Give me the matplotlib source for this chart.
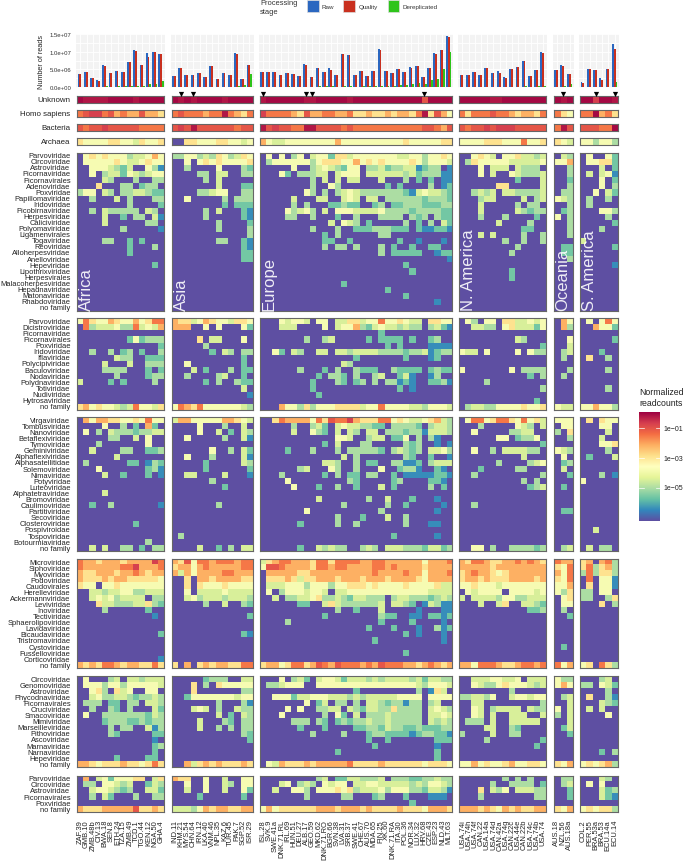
import numpy as np
import matplotlib
matplotlib.use("Agg")
import matplotlib.pyplot as plt
from matplotlib.patches import Rectangle

plt.rcParams['font.family'] = ['Liberation Sans', 'DejaVu Sans']

W, H = 685, 862

# ---- samples per region ----
REGIONS = ["Africa", "Asia", "Europe", "N. America", "Oceania", "S. America"]
SAMPLES_AF = ["ZAF.39", "GMB.10", "ZMB.48b", "CIV.13", "BWA.18", "SEN.8", "ETH.24", "TZA.15", "ZMB.49", "TCD.1", "TGO.44", "KEN.12", "NGA.50", "GHA.4"]
SAMPLES_AS = ["IND.11", "KHM.21", "MYS.54", "CHN.64", "IRN.12", "LKA.40", "VNM.46", "NPL.35", "KAZ.6", "TUR.45", "PAK.7", "SGP.52", "ISR.29"]
SAMPLES_EU = ["ISL.28", "SVK.9", "SWE.41a", "DNK.71.RL", "IRL.69", "HUN.51", "DEU.27", "ALB.17", "GEO.59", "MKD.62", "DNK.71.RO", "BGR.66", "SVN.38", "LVA.31", "SRB.37", "SWE.41", "CHE.67", "AUS.70", "MDA.65", "FIN.25", "XK.60", "DNK.71.RA", "ITA.30", "POL.36", "NOR.34", "LUX.32", "HRV.68", "CZE.43", "ESP.23", "NLD.43", "MLT.63"]
SAMPLES_NA = ["USA.74i", "USA.74h", "USA.74f", "CAN.22", "USA.14a", "USA.74d", "CAN.42a", "USA.74g", "CAN.22c", "USA.44e", "CAN.22b", "USA.74c", "USA.74b", "USA.74"]
SAMPLES_OC = ["AUS.18", "NZL.56", "AUS.18a"]
SAMPLES_SA = ["COL.2", "PER.55", "BRA.53a", "BRA.53", "ECU.14a", "ECU.14"]
MARKED = ["KHM.21", "CHN.64", "ISL.28", "ALB.17", "GEO.59", "HRV.68", "NZL.56", "BRA.53a", "ECU.14"]

# ---- reads, millions ----
RAW_AF = [3.8, 4.2, 2.6, 2.0, 6.2, 3.9, 4.6, 4.3, 7.1, 10.4, 6.2, 9.7, 10.0, 9.5]
QUAL_AF = [3.8, 4.2, 2.6, 1.7, 6.1, 3.9, 4.6, 4.3, 7.1, 10.3, 6.2, 8.4, 10.0, 9.3]
DEREP_AF = [0.1, 0.1, 0.05, 0.05, 0.3, 0.1, 0.2, 0.2, 0.4, 0.4, 0.3, 0.9, 1.0, 1.8]
RAW_AS = [3.2, 5.4, 3.5, 3.5, 4.1, 2.8, 6.0, 2.3, 3.9, 3.5, 9.6, 2.3, 6.3]
QUAL_AS = [3.2, 5.4, 3.5, 3.5, 4.1, 2.8, 6.0, 2.3, 3.9, 3.5, 9.5, 2.3, 6.3]
DEREP_AS = [0.05, 0.1, 0.05, 0.1, 0.1, 0.05, 0.1, 0.1, 0.1, 0.1, 0.2, 0.6, 3.6]
RAW_EU = [4.4, 4.2, 4.3, 3.3, 4.1, 3.7, 3.0, 6.5, 2.8, 5.5, 4.3, 5.3, 3.5, 9.3, 9.1, 3.5, 4.6, 3.1, 4.6, 10.8, 4.6, 3.9, 5.0, 4.3, 5.6, 5.9, 2.9, 5.5, 9.6, 10.6, 14.5]
QUAL_EU = [4.4, 4.2, 4.3, 3.3, 4.1, 3.7, 3.0, 6.4, 2.8, 5.5, 4.3, 4.9, 3.5, 9.3, 9.0, 3.5, 4.6, 3.1, 4.6, 10.6, 4.5, 3.9, 5.0, 4.3, 5.5, 5.9, 2.9, 5.5, 9.5, 10.4, 14.3]
DEREP_EU = [0.1, 0.1, 0.1, 0.1, 0.2, 0.1, 0.1, 0.1, 0.1, 0.2, 0.2, 0.2, 0.1, 0.2, 0.2, 0.1, 0.2, 0.2, 0.2, 0.3, 0.3, 0.3, 0.5, 0.7, 0.8, 1.1, 0.9, 2.0, 2.4, 5.0, 9.9]
RAW_NA = [3.3, 3.4, 4.2, 3.3, 5.3, 4.0, 4.6, 2.9, 5.0, 5.6, 7.4, 3.2, 4.8, 9.9]
QUAL_NA = [3.3, 3.4, 4.2, 3.3, 5.3, 4.0, 4.0, 2.6, 5.0, 5.6, 7.4, 3.2, 4.8, 9.8]
DEREP_NA = [0.05, 0.05, 0.1, 0.05, 0.1, 0.1, 0.1, 0.05, 0.1, 0.1, 0.2, 0.1, 0.2, 0.3]
RAW_OC = [4.9, 6.2, 3.6]
QUAL_OC = [4.9, 6.1, 3.6]
DEREP_OC = [0.1, 0.3, 0.8]
RAW_SA = [1.3, 5.0, 4.9, 2.5, 5.0, 12.1]
QUAL_SA = [1.1, 5.0, 4.9, 2.0, 5.0, 10.8]
DEREP_SA = [0.05, 0.1, 0.1, 0.05, 0.1, 1.3]

# ---- cell codes -> log10(normalized readcount), '.' means no reads ----
LEVELS = {'.': np.nan, '1': -6.4, '2': -5.6, '3': -5.0, '4': -4.45, '5': -3.8, '6': -2.9, '7': -2.15,
          '8': -1.5, 'b': -1.05, '9': -0.7, 'a': -0.2, 'A': -0.03}

# ---- fraction strips: Africa, Asia, Europe, N. America, Oceania, S. America ----
STRIP_NAMES = ["Unknown", "Homo sapiens", "Bacteria", "Archaea"]
UNKNOWN = ["AaaaaAAAAaAAAA", "AaAaAAAAaAAAA", "aAAAA AAaaA AAAAa AAAAA AAAAA AbAAA A", "AAAAAaaAAAAAAA", "AaA", "AA9AAa"]
HOMO = ["8b998b7877b776", "8b888788a8768", "98888 76b77 88778 66766 76776 8a6b7 5", "86888b88767768", "865", "88A786"]
BACTERIA = ["b8bb9bbbbb8888", "b9babbbbbb8bb", "ab9bb 88aab bbb8b 88888 88888 8bb87 b", "b8bb9b999bbbbb", "8ab", "bbb88A"]
ARCHAEA = ["65555665546556", "..66555665545", "7544 55555 555 7 55555 55555 6 55555 66", "55556665558556", "654", "553553"]

# ---- virus families ----
FAM_VERT = ["Parvoviridae", "Circoviridae", "Astroviridae", "Picornaviridae", "Picornavirales", "Adenoviridae", "Poxviridae", "Papillomaviridae", "Iridoviridae", "Picobirnaviridae", "Herpesviridae", "Caliciviridae", "Polyomaviridae", "Ligamenvirales", "Togaviridae", "Reoviridae", "Alloherpesviridae", "Anelloviridae", "Hepeviridae", "Lipothrixviridae", "Herpesvirales", "Malacoherpesviridae", "Hepadnaviridae", "Matonaviridae", "Rhabdoviridae", "no family"]
FAM_INV = ["Parvoviridae", "Dicistroviridae", "Picornaviridae", "Picornavirales", "Poxviridae", "Iridoviridae", "Iflaviridae", "Polycipiviridae", "Baculoviridae", "Nodaviridae", "Polydnaviridae", "Totiviridae", "Nudiviridae", "Hytrosaviridae", "no family"]
FAM_PLANT = ["Virgaviridae", "Tombusviridae", "Nanoviridae", "Betaflexiviridae", "Tymoviridae", "Geminiviridae", "Alphaflexiviridae", "Alphasatellitidae", "Solemoviridae", "Nimaviridae", "Potyviridae", "Luteoviridae", "Alphatetraviridae", "Bromoviridae", "Caulimoviridae", "Partitiviridae", "Secoviridae", "Closteroviridae", "Pospiviroidae", "Tospoviridae", "Botourmiaviridae", "no family"]
FAM_PHAGE = ["Microviridae", "Siphoviridae", "Myoviridae", "Podoviridae", "Caudovirales", "Herelleviridae", "Ackermannviridae", "Leviviridae", "Inoviridae", "Tectiviridae", "Sphaerolipoviridae", "Lavidaviridae", "Bicaudaviridae", "Tristromaviridae", "Cystoviridae", "Fusselloviridae", "Corticoviridae", "no family"]
FAM_PROT = ["Circoviridae", "Genomoviridae", "Astroviridae", "Phycodnaviridae", "Picornavirales", "Cruciviridae", "Smacoviridae", "Mimiviridae", "Marseilleviridae", "Pithoviridae", "Ascoviridae", "Marnaviridae", "Narnaviridae", "Hepeviridae", "no family"]
FAM_FUNG = ["Parvoviridae", "Circoviridae", "Astroviridae", "Picornavirales", "Poxviridae", "no family"]

VERT_AF = [".5656 55534 4575", ".5555 56544 5655", "..555 4324. .531", "..5.3 44254 3455", "....4 3...3 ..33",
           "...6. ..33. 233.", "355.4 3.334 4322", "..3.. .4.3. ..33", "..... ...3. ...2", "..3.4 33333 .43.",
           "....4 ..2.3 3.41", "....4 ..... .33.", "..... ..3.. ...1", "", "....3 3..2. 2...", "..... ...2. ..3.",
           "..... ...2. ....", "", "..... ..... ..2."]
VERT_AS = ["33553 43653 465", "..5.5 65655 556", "..3.. ..5.. .32", "....3 3.44. .33", ".....3.4.....", ".......4...22",
           "....3 3455. .33", "..5.. ...3. 333", "........2.222", ".....3.4...21", ".....3.....21", ".......3....2",
           ".......3....3", "............3", ".......33..21", "...........21", "...........22", "...........22"]
VERT_EU = [".5.5. 35.45 52664 55555 55445 53556 5",
           ".3555 55535 66655 75656 55556 53555 4",
           "..... 5..34 54325 5.334 23344 1233. 1",
           "...52 .3334 4.455 5.444 44434 23331 1",
           "..... ...3. 4.4.4 4...4 ...3. 2.2.1 1",
           "..... ...3. .53.. ..... 2.2.. ..3.1 2",
           "..... ..53. 3.345 43333 33321 45443 2",
           "..... 4...4 4..45 4.44. 33333 32333 2",
           "..... 3.3.. .2232 2..23 .2233 32223 3",
           "....5 3453. 4.555 44445 33332 33332 2",
           "....3 3..3. ..2.. 3...3 333.3 23.32 2",
           "..... ..... .4.54 3.2.. ...3. 2.3.4 2",
           "..... ...3. ..3.. 22233 3222. 21122 1",
           "..... ..... 2.3.. ....3 3.... ..... .",
           "..... ..... 22..2 ..... ..2.. 1...1 .",
           "..... ..... 3.33. 3...3 .2..2 ..22. .",
           "..... ..... ..... ....3 .2222 2..12 2",
           "..... ..... ..... ..... ..... ..... 1",
           "..... ..... ..... ..... ...2. ..... .",
           "..... ..... ..... ..... ....2 ..... .",
           "",
           "..... ..... ...2. ..... ..... ..... .",
           "..... ..... ..... ..... 2.... ..... .",
           "..... ..... ..... ..... ...2. ..... .",
           "..... ..... ..... ..... ..... ...1. ."]
VERT_NA = ["..565 4.556 4434", ".3655 55544 4445", "...5. 444.4 333.", "...5. 4..54 3334", "..... ....2 ...4",
           "..... .66.. ...4", "..343 4.443 3334", "...34 4.... 4.34", "...4. ....3 .33.", "...4. ....4 3233",
           "...3. ..3.. ..2.", "..... .4... .3..", "..... ..... 22..", "...4. 4.... 3..3", "..... ..3.. 3..3",
           "..... ....3 ....", "..... ...3. ....", "", "", "..... ...2. ....", "..... ...2. ...."]
VERT_OC = [".43", "557", "..3", "..3", "..2", "..3", ".33", "543", "..3", ".23", "5.3", "..3", "..3", "..3", "...", ".22", ".22", "..3"]
VERT_SA = [".5..52", ".55662", "...4.2", ".4.451", "...5.2", "...5.3", "..5.42", ".3..3.", ".3....", "...553", "....3.", ".....2",
           "...3..", "", "4.....", ".....2", "", "", ".....1"]

INV_AF = ["58655 76557 5688", ".8344 45338 4547", "", "..... ...25 2333", "..... ..... ...2", "..3.. 3.23. 2..3",
          "..... .433. .222", "....4 ...4. .333", "....3 333.. .2.2", "..... .3... .233", "4.... 2.2.. ..3.",
          "", "", "", "67565 54348 5546"]
INV_AS = ["76645 76554 665", "777.. 5.5.. .52", "", "....6 .44.. .5.", "..... 3.... ...", "..... .2.43 .33", "..... ..... .2.",
          "..5.. ..... .2.", "...4. 2...3 .22", "..3.. ..34. .2.", "..... 2.3.. 322", "..... ..... .4.", "..... ..... ..1", "",
          "58768 55555 543"]
INV_EU = ["...54 554.5 5.446 64558 55654 4.665 5",
          "...44 4.... 5.455 73245 44343 3.342 1",
          "..... ..... ..... ....2 ..... ..... .",
          "..... ..3.. 34... ..2.2 222.2 ..23. .",
          "..... ..... ..... ..... 2.2.. ..111 1",
          "..52. 43..4 4.443 44443 33323 34123 3",
          "..... ..... ..... 2.... ...2. ..12. .",
          "..... ..... ...43 ..... ..... ..... .",
          "..... .3... 2.3.. 3222. .3222 2.232 2",
          "..... ....2 .332. 3..34 ..241 ..13. .",
          "..... ...2. ..32. 23.3. 33121 ..223 1",
          "..... ...2. ..... ..... ..2.1 ..... .",
          "..... ....2 ..... ..... ..... ..... .",
          "",
          "...75 53635 55666 64558 55554 43555 4"]
INV_NA = [".53.5 5.664 4545", "..443 3.564 4425", "", "..... ....4 3...", "..... ..... ...2", "544.5 ....5 .533", "", "",
          "5.... ...5. 3333", "..... ..... .2.3", "....3 ..... ....", "..... ..... ...3", "", "..... ..... ..2.", ".3443 35555 6556"]
INV_OC = [".75", ".73", "...", "..5", "..4", ".34", ".3.", "...", "..3", ".3.", "...", "...", "...", "...", "544"]
INV_SA = [".5.585", "..7552", "", ".....2", "", "...2..", ".6..3.", "", "....3.", "", "", "....3.", "", "", "557553"]

PLANT_AF = [".7577 66556 5855", "....5 ..3.2 .72.", ".5.3. 43332 3344", "..... 33..4 .5..", "...3. ..... .5..", "..4.. ..33. .223",
            "..... .4... ....", ".3... ...22 .132", "...5. ..... .231", "....4 ..2.. .2.1", "", "", "....4 ..... ....", "",
            "..2.. 3.... ...1", "", "", "..... ....2 ....", "", "", "..... ..... .3..", "..4.4 ..33. 2.33"]
PLANT_AS = ["47755 55577 654", "....5 ...3. .4.", "....5 ..4.2 .43", "..5.. ...3. .41", "", "..... .5..3 .42", "..5.. .3... .41",
            "..... 2.... .43", "..... 2.... ..2", "..44. ...4. ..1", "..... .3... ...", "..... ...2. ...", "", "",
            "..... ..3.. ...", "", "", "", "", ".3... ..... ...", "", "....4 ..2.3 .44"]
PLANT_EU = ["..687 77758 6b889 76668 85654 45674 3",
            "..... 3..34 2.454 43322 .3333 2.344 3",
            "..... 4..53 2.4.4 3.44. 33323 31444 3",
            "..... ..... ..554 ..344 .225. 3.31. .",
            "..... ..... 2.4.. .33.. ...32 3..1. 1",
            "....2 ...3. ..3.3 33332 .3432 3.445 3",
            "..... ..... ...4. 3.... ...32 ..2.. 1",
            "..... ..... 443.. 3.22. .3311 2.344 4",
            "..... .34.. .53.. 3...5 ..233 1..21 .",
            "...3. ..... 2.3.2 2.33. .2.11 11122 1",
            "....5 ..... ....3 2.... .23.. ..221 .",
            "..... 5...2 ..3.. 2...4 .2... ..3.2 .",
            "",
            "..... ....4 ..... ..3.. 4...2 ...1. .",
            "..... ..... ...3. ..... 3..2. ....1 .",
            "..... ..5.. ..... ....3 ..... ...1. .",
            "..... ..... ..3.. .2... 4..3. ..... .",
            "..... .2... ..3.. 3.... ...3. ..11. .",
            "",
            "..... ..... ..... ..... .2... ...1. .",
            "",
            "..... .2..4 3433. .343. 44433 32442 3"]
PLANT_NA = [".5885 68865 8564", "...3. ....5 43.4", "..5.. ...33 44..", "..... .55.2 335.", "..... ..... ...2", "..5.. 3.444 433.",
            "..... ..... 4...", "..... .3... .345", "...2. ....3 3...", "..3.. ..... ...3", "..... ..... 3.3.", "..... ..... .234",
            "", "", "..3.. ..... ....", "", "", "", "", "", "", "..55. 3..33 3323"]
PLANT_OC = ["555", ".55", "3.6", "..3", "...", "543", ".5.", ".23", ".4.", "..2", "...", ".2.", "...", "...", "...", ".22", "...", "...", "...", "...", "...", ".34"]
PLANT_SA = [".6.655", "...55.", "....4.", "...4..", "...556", "....3.", ".2...4", "", "", "...3.1", "5.....", "", "", "", "", "", "", "", "..4...", "", "", ".4.33."]

PHAGE_AF = ["87767 77677 7798", "87777 77889 7778", "76677 76778 7677", "76667 67766 6665", "655.5 56555 5555", "..443 44553 3444",
            "..454 53444 4.33", "...64 43334 4632", "....3 ..... .2..", "..... ..... ..1.", "", "", "..... ..... ...2", "", "", "",
            "..... ..... ...1", "76768 87677 6686"]
PHAGE_AS = ["76b58 87888 788", "67757 87777 788", "74757 77788 777", "..6.7 76777 766", "..6.6 55565 555", "..5.4 44454 444",
            "..453 44434 443", "..... 3..4. .32", "", "..... ..... ..2", "", "", "..... ..... .21", "", "", "", "", "6.7.6 76776 688"]
PHAGE_EU = ["46788 77768 86888 87788 77777 75777 8",
            "5bb87 77768 87887 77788 78777 76777 7",
            ".7777 76677 77777 77787 77787 75777 8",
            ".6667 64667 77677 76777 67777 65777 7",
            ".4445 55355 53556 66565 55565 55564 4",
            ".5.35 55455 4.445 55555 55555 55444 4",
            "..4.3 34456 33432 44333 .3443 33234 3",
            "..... .22.. 46433 33334 .4432 .1431 1",
            "..... ..... ..3.. 2...4 ..... 1...1 1",
            "..... ..... 2.... ....3 22..1 1.221 2",
            "....3 ..... ..... ....2 ....2 ....1 .",
            "..... ..... ..... ..2.. .2... 1..31 2",
            "..... ..... ..... ..... ...2. 1...1 .",
            "..... ..... ..... ...2. ..... ....1 .",
            "",
            "..... ..... ..... ..... ...2. ..... .",
            "",
            "67756 8867b 87b88 8787b 88877 67876 7"]
PHAGE_NA = ["76887 66778 7876", "77777 67777 7777", "67877 65677 7777", "67767 66677 7767", "55655 54555 5555", ".5455 55.55 5545",
            "4.444 43553 3444", "...4. .46.. 4432", "..... ..... .223", "", "", "", "", "", "", "", "", "77588 87667 8878"]
PHAGE_OC = ["877", "658", "758", "658", "557", "536", ".56", ".55", ".3.", "..2", "...", "...", "...", "...", ".2.", "...", "...", "857"]
PHAGE_SA = ["67.783", "683673", "383663", ".8.551", ".6.551", "33.55.", "33..36", "...6.3", "", "", "", "", "", "", "", "", "", "56.863"]

PROT_AF = [".5... 34.44 3444", ".5553 55355 5554", "..563 .645. .55.", "..453 34432 3343", ".333. 22.33 .443", "..3.. 32.3. ..42",
           ".5..3 33333 3243", "....2 33322 3233", "..... 3.33. .413", "..... 32... ..22", "..... ..... ..1.", "..... ..... ..23",
           "..... ..... ..2.", "..... .2... .22.", "77656 66766 5686"]
PROT_AS = ["..... 2333. .44", "...6. 3.655 555", "...6. ..... .33", "..255 55555 455", "..... ..3.. .31", "...45 4.3.. 433",
           "..... ..4.2 .43", "....4 ...32 .33", "....4 ..3.3 .33", "..... ..... .32", "..... ..... ..2", "", "", "", "..746 76766 676"]
PROT_EU = ["...5. 342.4 55424 44343 44443 42443 3",
           ".3345 55..5 55555 55555 55555 43555 4",
           "..... ..... ..... 2.... ..... 3.164 .",
           "..555 24455 54443 43444 44555 5.555 5",
           "..... ..5.2 4.33. 3.443 23313 3.34. .",
           "....5 .5..3 344.4 32443 36333 3.454 3",
           "...5. ..... 3.52. 4.333 43333 3.445 4",
           "..... 333.3 2.232 33433 43333 3.434 3",
           "..... .2... 2.... 22332 43322 32223 3",
           "..... ...3. ...3. ..233 22221 23322 1",
           "..... ..... ..... ..2.. 2.... ...22 2",
           "..... ..... ..... ...2. ..... ...1. .",
           "..... ..... ..2.. ..... ..... ...2. .",
           "..... ..... ..... ..... ..... ...2. .",
           ".5476 66767 77778 66667 66666 65666 5"]
PROT_NA = ["..444 55445 .444", "..543 35655 5434", "..... ...3. ....", "33443 5..45 5455", "..44. ..... ...3", "..54. 34444 .433",
           "..54. 4..44 4..4", ".333. 4..44 444.", "....4 4..32 ....", "3.... 4..33 ....", "....3 ..... ...2", "..... ..... ..2.",
           "", "", "55756 55675 5665"]
PROT_OC = ["533", "575", "...", ".34", "..4", "5.4", "3.4", "..4", ".24", "..2", "...", "...", "...", "...", "657"]
PROT_SA = ["...34.", "33.542", "....3.", ".6..31", "...432", ".4.4..", "....5.", "", "", "", "", "", "...2.3", "", "565673"]

FUNG_AF = [".7.45 25556 6.46", ".33.5 5434. .243", "..455 4323. .442", "..3.4 2...3 ..33", "", "76667 7777b 6676"]
FUNG_AS = ["766.. 5..4. .55", "..5.. 5..43 .55", "..4.. 5..4. .52", "....2 ..... .2.", "", "44435 76776 677"]
FUNG_EU = ["..... ....3 4.224 43334 .3332 23343 3",
           "...45 .343. 5455. 44554 44443 43554 3",
           "..4.. 553.5 55656 34445 35553 32443 1",
           "..... ..3.. ...33 ...23 ...2. ..111 .",
           "..... ..... ..... ..... ....2 ..... .",
           "57566 66667 77677 76766 66766 65777 6"]
FUNG_NA = ["..... ..3.3 .3..", "..... 3..33 33.2", "...6. 435.4 4433", "...3. ..... ..33", "", "77767 65767 6677"]
FUNG_OC = [".33", ".34", "..2", "..2", "...", "657"]
FUNG_SA = ["...43.", ".5.5..", "...423", "...421", "", "565663"]

STAGES = ["Raw", "Quality", "Dereplicated"]
STAGE_COLORS = ["#2B67C0", "#C9301F", "#2EC41B"]
VMIN, VMAX = -7.2, 0.07
CBAR_TICKS = [-1, -3, -5]
CBAR_LABELS = ["1e\u221201", "1e\u221203", "1e\u221205"]

# pixel layout of the facet grid
PANEL_X = [(77.3, 164.0), (171.7, 252.5), (259.7, 451.7), (459.3, 546.3), (553.7, 572.8), (580.3, 617.7)]
STRIP_Y = [(96.5, 104.0), (110.7, 118.0), (125.0, 132.0), (139.3, 146.0)]
HEAT_Y = [(153.7, 311.7), (319.3, 410.7), (418.3, 552.3), (560.0, 669.3), (677.3, 768.3), (776.7, 813.3)]
LABEL_X = 70.5

cmap = plt.get_cmap("Spectral_r").copy()
cmap.set_bad(cmap(0.0))


def axes_px(x0, y0, x1, y1):
    return fig.add_axes([x0 / W, 1 - y1 / H, (x1 - x0) / W, (y1 - y0) / H])


def text_px(x, y, s, **kw):
    fig.text(x / W, 1 - y / H, s, **kw)


def decode(rows, n_rows, n_cols, name):
    """Turn rows of level codes into a log10 matrix, short lists get empty rows."""
    out = np.full((n_rows, n_cols), np.nan)
    for r, row in enumerate(rows):
        row = row.replace(" ", "")
        if row == "":
            continue
        if len(row) != n_cols:
            problems.append(f"{name} row {r}: {len(row)} != {n_cols}")
            row = (row + "." * n_cols)[:n_cols]
        out[r] = [LEVELS[c] for c in row]
    return out


def draw_cells(ax, values):
    ax.imshow(values, cmap=cmap, vmin=VMIN, vmax=VMAX, aspect='auto', interpolation='nearest')
    ax.set_xticks([])
    ax.set_yticks([])
    for sp in ax.spines.values():
        sp.set_color('#666666')
        sp.set_linewidth(0.8)


fig = plt.figure(figsize=(W / 100, H / 100), dpi=100)
problems = []

samples = [SAMPLES_AF, SAMPLES_AS, SAMPLES_EU, SAMPLES_NA, SAMPLES_OC, SAMPLES_SA]
raw = [RAW_AF, RAW_AS, RAW_EU, RAW_NA, RAW_OC, RAW_SA]
qual = [QUAL_AF, QUAL_AS, QUAL_EU, QUAL_NA, QUAL_OC, QUAL_SA]
derep = [DEREP_AF, DEREP_AS, DEREP_EU, DEREP_NA, DEREP_OC, DEREP_SA]
strips = [UNKNOWN, HOMO, BACTERIA, ARCHAEA]
groups = [
    (FAM_VERT, [VERT_AF, VERT_AS, VERT_EU, VERT_NA, VERT_OC, VERT_SA]),
    (FAM_INV, [INV_AF, INV_AS, INV_EU, INV_NA, INV_OC, INV_SA]),
    (FAM_PLANT, [PLANT_AF, PLANT_AS, PLANT_EU, PLANT_NA, PLANT_OC, PLANT_SA]),
    (FAM_PHAGE, [PHAGE_AF, PHAGE_AS, PHAGE_EU, PHAGE_NA, PHAGE_OC, PHAGE_SA]),
    (FAM_PROT, [PROT_AF, PROT_AS, PROT_EU, PROT_NA, PROT_OC, PROT_SA]),
    (FAM_FUNG, [FUNG_AF, FUNG_AS, FUNG_EU, FUNG_NA, FUNG_OC, FUNG_SA]),
]

for p, (x0, x1) in enumerate(PANEL_X):
    names = samples[p]
    n = len(names)

    # --- read counts ---
    ax = axes_px(x0 - 1, 35, x1 + 1, 89)
    ax.set_facecolor('#F3F3F3')
    px_col = (x1 - x0) / n
    ax.set_xlim(-0.5 - 1 / px_col, n - 0.5 + 1 / px_col)
    ax.set_ylim(-2.8e5, 1.5085e7)
    xs = np.arange(n)
    for k, vals in enumerate([raw[p], qual[p], derep[p]]):
        ax.bar(xs + (k - 1) * 0.3, np.array(vals) * 1e6, width=0.3, color=STAGE_COLORS[k], linewidth=0, zorder=3)
    ax.set_xticks(xs)
    ax.set_xticklabels([])
    ax.set_yticks([0, 5e6, 1e7, 1.5e7])
    ax.set_yticks([2.5e6, 7.5e6, 1.25e7], minor=True)
    ax.grid(True, which='both', color='white', linewidth=0.6, zorder=0)
    ax.tick_params(which='both', length=0)
    for sp in ax.spines.values():
        sp.set_visible(False)
    if p == 0:
        ax.set_yticklabels(["0.0e+00", "5.0e+06", "1.0e+07", "1.5e+07"], fontsize=4.3, color='#333333')
        ax.tick_params(axis='y', pad=3.5)
    else:
        ax.set_yticklabels([])

    # --- fraction strips ---
    for s, (y0, y1) in enumerate(STRIP_Y):
        ax = axes_px(x0, y0, x1, y1)
        draw_cells(ax, decode([strips[s][p]], 1, n, STRIP_NAMES[s] + str(p)))
        if s == 0:
            hits = [i for i, name in enumerate(names) if name in MARKED]
            ax.scatter(hits, [-0.7] * len(hits), marker='v', s=14, color='black', linewidths=0, clip_on=False, zorder=5)
            ax.set_ylim(0.5, -0.5)
            ax.set_xlim(-0.5, n - 0.5)
        if p == 0:
            text_px(LABEL_X, (y0 + y1) / 2, STRIP_NAMES[s], ha='right', va='center', fontsize=5.7, color='#222222')

    # --- family heatmaps ---
    for g, (y0, y1) in enumerate(HEAT_Y):
        families, cells = groups[g]
        ax = axes_px(x0, y0, x1, y1)
        draw_cells(ax, decode(cells[p], len(families), n, f"group{g} panel{p}"))
        if g == 0:
            ax.text(2 / (x1 - x0), 0.004, REGIONS[p], transform=ax.transAxes, rotation=90, ha='left', va='bottom',
                    fontsize=12, color='white', alpha=0.9)
        if p == 0:
            row_h = (y1 - y0) / len(families)
            for r, fam in enumerate(families):
                text_px(LABEL_X, y0 + (r + 0.5) * row_h, fam, ha='right', va='center', fontsize=5.45, color='#222222')

    # --- sample labels ---
    for i, name in enumerate(names):
        text_px(x0 + (i + 0.5) * (x1 - x0) / n, 820, name, rotation=90, ha='center', va='top', fontsize=5.4, color='#222222')

if problems:
    raise SystemExit("\n".join(problems))

text_px(41.7, 62, "Number of reads", rotation=90, ha='center', va='center', fontsize=5.2, color='#222222')

# --- processing stage legend ---
text_px(260, 8, "Processing\nstage", ha='left', va='center', fontsize=5.4, color='#333333', linespacing=1.3)
for stage, color, sq_x, lab_x in zip(STAGES, STAGE_COLORS, [307.3, 343.3, 388.0], [321.7, 358.7, 402.7]):
    fig.add_artist(Rectangle((sq_x / W, 1 - 12.7 / H), 11.2 / W, 11.4 / H, transform=fig.transFigure, facecolor=color, edgecolor='#DDDDDD', linewidth=0.5))
    text_px(lab_x, 7.7, stage, ha='left', va='center', fontsize=4.5, color='#333333')

# --- colour bar ---
text_px(639.3, 398, "Normalized\nreadcounts", ha='left', va='center', fontsize=6.3, color='#222222', linespacing=1.2)
cax = axes_px(639.3, 413.3, 660.3, 521.7)
cax.imshow(np.linspace(VMAX, VMIN, 256)[:, None], cmap=cmap, vmin=VMIN, vmax=VMAX, aspect='auto', extent=[0, 1, VMIN, VMAX])
cax.set_xticks([])
cax.set_yticks([])
for sp in cax.spines.values():
    sp.set_visible(False)
for t, lab in zip(CBAR_TICKS, CBAR_LABELS):
    cax.plot([0, 0.2], [t, t], color='white', linewidth=0.5)
    cax.plot([0.8, 1], [t, t], color='white', linewidth=0.5)
    cax.text(1.16, t, lab, ha='left', va='center', fontsize=5, color='#222222', clip_on=False)
cax.set_xlim(0, 1)
cax.set_ylim(VMIN, VMAX)

fig.savefig("out.png", dpi=100)
